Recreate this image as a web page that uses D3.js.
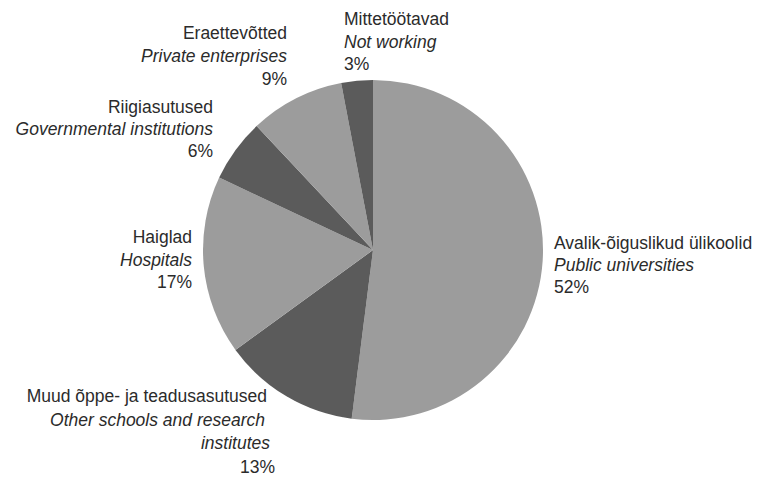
<!DOCTYPE html>
<html>
<head>
<meta charset="utf-8">
<script src="https://cdn.jsdelivr.net/npm/d3@7"></script>
<style>
  body { margin: 0; background: #fff; }
  svg text { font-family: "Liberation Sans", Arial, Helvetica, sans-serif; font-size: 17.5px; fill: #2b2b2b; }
</style>
</head>
<body>
<div id="chart"></div>
<script>
// slices, clockwise from 12 o'clock
const namesEt = ["Avalik-õiguslikud ülikoolid", "Muud õppe- ja teadusasutused", "Haiglad",
                 "Riigiasutused", "Eraettevõtted", "Mittetöötavad"];
const namesEn = [["Public universities"], ["Other schools and research", "institutes"], ["Hospitals"],
                 ["Governmental institutions"], ["Private enterprises"], ["Not working"]];
const shares = [52, 13, 17, 6, 9, 3];

// label placement (layout only); dx = per-line nudge
const labelPos = [
  { x: 554, y: 249, anchor: "start", step: 22 },
  { x: 268, y: 402, anchor: "end", step: 23.5, dx: [-1, -3, 2, 7] },
  { x: 192, y: 243, anchor: "end", step: 22.5 },
  { x: 213, y: 113, anchor: "end", step: 22 },
  { x: 287, y: 39,  anchor: "end", step: 23 },
  { x: 344, y: 25,  anchor: "start", step: 22.5 }
];

const width = 758, height = 477;
const cx = 373, cy = 250, radius = 170;

const svg = d3.select("#chart")
  .append("svg")
    .attr("width", width)
    .attr("height", height);

const g = svg.append("g")
    .attr("transform", `translate(${cx},${cy})`);

const pie = d3.pie().sort(null).value(d => d);
const arcs = pie(shares);

const color = d3.scaleOrdinal()
  .domain([0, 1])
  .range(["#9c9c9c", "#5b5b5b"]);

const arcGen = d3.arc().innerRadius(0).outerRadius(radius);

g.selectAll("path")
  .data(arcs)
  .join("path")
    .attr("d", arcGen)
    .attr("fill", (d, i) => color(i % 2));

const labels = svg.selectAll("g.label")
  .data(arcs)
  .join("g")
    .attr("class", "label")
    .attr("transform", (d, i) => `translate(${labelPos[i].x},${labelPos[i].y})`);

labels.each(function(d, i) {
  const p = labelPos[i];
  const lines = [{ t: namesEt[i], it: false }]
    .concat(namesEn[i].map(t => ({ t, it: true })))
    .concat([{ t: shares[i] + "%", it: false }]);
  const txt = d3.select(this).append("text")
    .attr("text-anchor", p.anchor);
  lines.forEach((l, k) => {
    txt.append("tspan")
      .attr("x", p.dx ? p.dx[k] : 0)
      .attr("y", k * p.step)
      .style("font-style", l.it ? "italic" : "normal")
      .text(l.t);
  });
});
</script>
</body>
</html>
